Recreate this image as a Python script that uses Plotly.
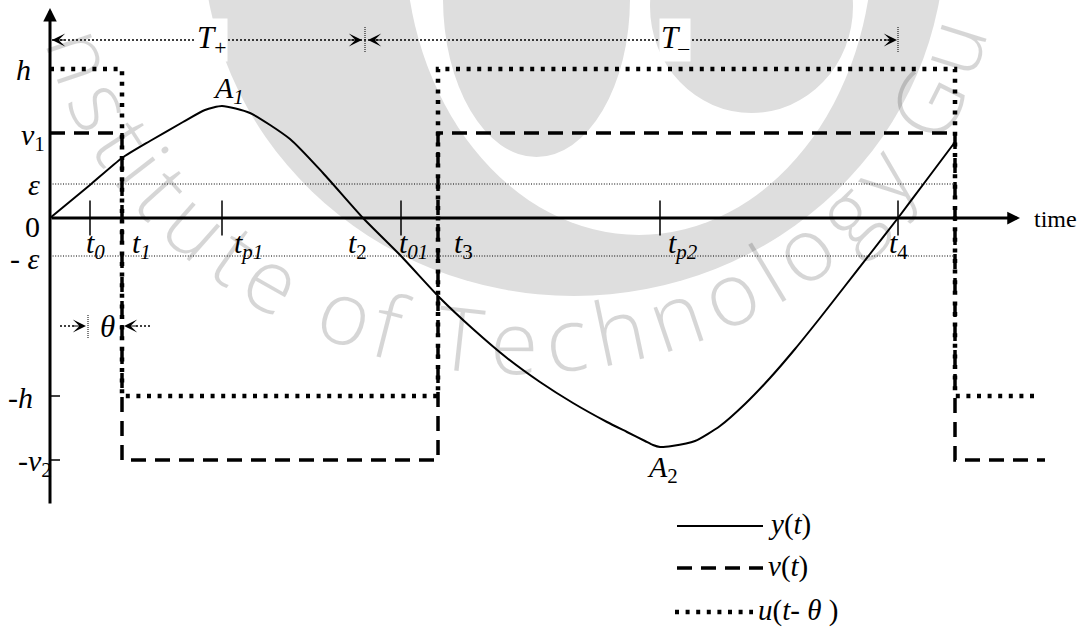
import math
import plotly.graph_objects as go

# ---- relay feedback timing (arbitrary time units, origin at 0) ----
t0, t1, tp1, t2, t01, t3, tp2, t4 = 40, 72, 172, 313, 351, 388, 610, 848
t5 = 905                 # next relay switching instant
u_end, v_end = 990, 995  # end of the drawn relay signals

# ---- signal levels (arbitrary units) ----
h, v1, eps = 149, 85, 34
neg_eps, neg_h, neg_v2 = -38, -178, -242
A1, A2 = 112, -229

# process output y(t)
y_time = [0, 40, 72, 100, 133, 155, 172, 200, 240, 273, 313, 351, 390,
          423, 457, 490, 523, 557, 577, 595, 603, 610, 622, 645, 670, 695,
          720, 745, 770, 795, 820, 848, 875, 905]
y_vals = [0, 33, 60, 77, 96, 108, 112, 105, 79, 45, 0, -38, -80,
          -111, -140, -164, -185, -204, -214, -223, -227, -229, -228, -223,
          -208, -186, -160, -131, -100, -68, -36, 0, 36, 76]

# relay switching instants and the levels held after each switch
switch_times = [0, t1, t3, t5]
u_levels = [h, neg_h, h, neg_h]
v_levels = [v1, neg_v2, v1, neg_v2]


def sub(s, italic=False, size=21):
    inner = f"<i>{s}</i>" if italic else s
    return f'<sub><span style="font-size:{size}px">{inner}</span></sub>'


# time-axis tick marks and labels
tick_times = [t0, tp1, t01, tp2, t4]
t_label_times = [t0, t1, tp1, t2, t01, t3, tp2, t4]
t_label_text = ["<i>t</i>" + sub("0", True), "<i>t</i>" + sub("1", True),
                "<i>t</i>" + sub("p1", True), "<i>t</i>" + sub("2"),
                "<i>t</i>" + sub("01", True), "<i>t</i>" + sub("3"),
                "<i>t</i>" + sub("p2", True), "<i>t</i>" + sub("4")]
t_label_dx = [5, 19, 26, -6, 12, 25, 23, 0]

# level labels on the vertical axis
lvl_vals = [h, v1, eps, 0, neg_eps, neg_h, neg_v2]
lvl_text = ["<i>h</i>", "<i>v</i>" + sub("1"), "<i>ε</i>", "0", "- <i>ε</i>",
            "-<i>h</i>", "-<i>v</i>" + sub("2")]
lvl_dx = [-17, -3, -8, -8, -8, -15, 4]
lvl_dy = [0, -4, 0, -8, -2, -1, -3]

W, H = 1081, 627
X0, Y0 = 50, 218          # pixel position of the origin
T_LEVEL, THETA_LEVEL = 178, -108
AXIS_TOP, AXIS_BOTTOM, AXIS_RIGHT = 210, -287, 970

INK = "black"
SERIF = "Liberation Serif"
WM = "#dedede"


def px(x):
    return x - X0


def py(y):
    return Y0 - y


fig = go.Figure()

# ---- watermark emblem (drawn below the traces) ----
shapes = []
for (x0, x1, ya, yb, col) in [
    (203, 945, -420, 296, WM),
    (405, 873, -355, 235, "white"),
    (443, 630, -160, 157, WM),
    (650, 853, -100, 113, WM),
]:
    shapes.append(dict(type="circle", xref="x", yref="y", x0=px(x0), x1=px(x1),
                       y0=py(yb), y1=py(ya), fillcolor=col, line_width=0,
                       layer="below"))

# ---- guide lines ----
for lev in (eps, neg_eps):
    shapes.append(dict(type="line", xref="x", yref="y", x0=0, x1=t5, y0=lev, y1=lev,
                       line=dict(color=INK, width=1, dash="1px,1.6px")))
# period arrows T+ and T-
shapes.append(dict(type="line", xref="x", yref="y", x0=2, x1=t4 - 2,
                   y0=T_LEVEL, y1=T_LEVEL,
                   line=dict(color=INK, width=1.4, dash="2px,2px")))
for tx in (t2 + 2, t4):
    shapes.append(dict(type="line", xref="x", yref="y", x0=tx, x1=tx,
                       y0=T_LEVEL - 12, y1=T_LEVEL + 13,
                       line=dict(color=INK, width=1, dash="1px,1px")))
# delay marker theta
shapes.append(dict(type="line", xref="x", yref="y", x0=10, x1=24,
                   y0=THETA_LEVEL, y1=THETA_LEVEL,
                   line=dict(color=INK, width=1.4, dash="2px,2px")))
shapes.append(dict(type="line", xref="x", yref="y", x0=t1 + 14, x1=t1 + 28,
                   y0=THETA_LEVEL, y1=THETA_LEVEL,
                   line=dict(color=INK, width=1.4, dash="2px,2px")))
shapes.append(dict(type="line", xref="x", yref="y", x0=t0 - 2, x1=t0 - 2,
                   y0=THETA_LEVEL - 12, y1=THETA_LEVEL + 11,
                   line=dict(color=INK, width=1, dash="1px,1px")))
# vertical-axis ticks at -h and -v2
for lev in (neg_h, neg_v2):
    shapes.append(dict(type="line", xref="x", yref="y", x0=0, x1=10, y0=lev, y1=lev,
                       line=dict(color=INK, width=1.5)))

# ---- signals ----
fig.add_trace(go.Scatter(
    x=switch_times + [u_end], y=u_levels + [u_levels[-1]], mode="lines",
    line=dict(color=INK, width=4.5, dash="4px,6.6px", shape="hv"),
    name="u(t-θ)", showlegend=False, hoverinfo="skip"))
fig.add_trace(go.Scatter(
    x=switch_times + [v_end], y=v_levels + [v_levels[-1]], mode="lines",
    line=dict(color=INK, width=3.5, dash="15px,9px", shape="hv"),
    name="v(t)", showlegend=False, hoverinfo="skip"))
fig.add_trace(go.Scatter(
    x=y_time, y=y_vals, mode="lines",
    line=dict(color=INK, width=2, shape="spline", smoothing=0.6),
    name="y(t)", showlegend=False, hoverinfo="skip"))
fig.add_trace(go.Scatter(
    x=tick_times, y=[0] * len(tick_times), mode="markers",
    marker=dict(symbol="line-ns", size=25, line=dict(color=INK, width=1.5)),
    showlegend=False, hoverinfo="skip"))

ann = []


def arrow(xh, yh, xt, yt, width, size, head=2):
    return dict(x=xh, y=yh, ax=xt, ay=yt, xref="x", yref="y", axref="x", ayref="y",
                text="", showarrow=True, arrowhead=head, arrowwidth=width,
                arrowsize=size, arrowcolor=INK)


# axes with arrow heads
ann.append(arrow(AXIS_RIGHT, 0, 0, 0, 3, 0.85))
ann.append(arrow(0, AXIS_TOP, 0, AXIS_BOTTOM, 3, 0.9))
# period and delay arrow heads
ann.append(arrow(2, T_LEVEL, 16, T_LEVEL, 1, 2.2, 3))
ann.append(arrow(t2 - 1, T_LEVEL, t2 - 15, T_LEVEL, 1, 2.2, 3))
ann.append(arrow(t2 + 5, T_LEVEL, t2 + 19, T_LEVEL, 1, 2.2, 3))
ann.append(arrow(t4 - 1, T_LEVEL, t4 - 15, T_LEVEL, 1, 2.2, 3))
ann.append(arrow(t0 - 4, THETA_LEVEL, t0 - 18, THETA_LEVEL, 1, 2.2, 3))
ann.append(arrow(t1 + 2, THETA_LEVEL, t1 + 16, THETA_LEVEL, 1, 2.2, 3))


def label(x, y, text, size=30, dx=0, dy=0, xanchor="center", yanchor="middle",
          bg=None):
    d = dict(x=x, y=y, xref="x", yref="y", text=text, showarrow=False,
             font=dict(family=SERIF, size=size, color=INK),
             xanchor=xanchor, yanchor=yanchor, xshift=dx, yshift=dy)
    if bg:
        d["bgcolor"] = bg
    return d


for tx, tt, dx in zip(t_label_times, t_label_text, t_label_dx):
    ann.append(label(tx, 0, tt, dx=dx, dy=-27))
for lv, lt, dx, dy in zip(lvl_vals, lvl_text, lvl_dx, lvl_dy):
    ann.append(label(0, lv, lt, size=30, dx=dx, dy=dy, xanchor="right"))

ann.append(label(tp1, A1, "<i>A</i>" + sub("1", True), size=30, dx=6, dy=16))
ann.append(label(tp2, A2, "<i>A</i>" + sub("2"), size=30, dx=2, dy=-22))
ann.append(label((0 + t2) / 2, T_LEVEL, "<i>T</i><sub>+</sub>", size=31, dx=5,
                 bg="white"))
ann.append(label(625, T_LEVEL, "<i>T</i><sub>–</sub>", size=31, bg="white"))
ann.append(label(t0 + 8, THETA_LEVEL, "<i>θ</i>", size=31, dx=9))
ann.append(label(AXIS_RIGHT, 0, "time", size=24, dx=12, dy=-1, xanchor="left"))

# legend
legend_rows = [("solid", "<i>y</i>(<i>t</i>)", 526, 2, 677, 763),
               ("15px,9px", "<i>v</i>(<i>t</i>)", 568, 3.5, 677, 763),
               ("4px,6.6px", "<i>u</i>(<i>t</i>- <i>θ</i> )", 612, 4.5, 675, 753)]
for dash, txt, ypx, lw, xa, xb in legend_rows:
    shapes.append(dict(type="line", xref="paper", yref="paper",
                       x0=xa / W, x1=xb / W, y0=1 - ypx / H, y1=1 - ypx / H,
                       line=dict(color=INK, width=lw, dash=dash)))
    ann.append(dict(x=(xb + 3) / W, y=1 - ypx / H, xref="paper", yref="paper",
                    text=txt, showarrow=False, xanchor="left", yanchor="middle",
                    yshift=2, font=dict(family=SERIF, size=29, color=INK)))

# ---- watermark lettering laid along an elliptical arc ----
wm_text = "Indian Institute of Technology Guwahati"
adv = {"T": 0.55, "e": 0.55, "c": 0.48, "h": 0.6, "n": 0.6, "o": 0.58,
       "l": 0.26, "g": 0.55, "y": 0.5, "s": 0.46, "t": 0.34, "i": 0.26,
       "u": 0.6, "f": 0.33, "G": 0.68, "w": 0.8, "a": 0.55, " ": 0.22,
       "I": 0.3, "d": 0.6}
fsz, track = 88, 6
ecx, ecy, erx, ery = 515, -60, 450, 400

# cumulative arc length along the ellipse, going clockwise on screen
phis = [math.radians(230 - 0.1 * k) for k in range(2600)]
pts = [(ecx + erx * math.cos(p), ecy + ery * math.sin(p)) for p in phis]
cum = [0.0]
for k in range(1, len(pts)):
    cum.append(cum[-1] + math.dist(pts[k], pts[k - 1]))


def at_arc(s):
    for k in range(1, len(cum)):
        if cum[k] >= s:
            f = (s - cum[k - 1]) / (cum[k] - cum[k - 1])
            return phis[k - 1] + f * (phis[k] - phis[k - 1])
    return phis[-1]


pos = 0.0
centres = []
for ch in wm_text:
    w = adv.get(ch, 0.55) * fsz + track
    centres.append(pos + w / 2)
    pos += w
t_idx = wm_text.index("Technology")
phi_T = math.radians(97)
k_T = min(range(len(phis)), key=lambda k: abs(phis[k] - phi_T))
shift = cum[k_T] - centres[t_idx]
for ch, c in zip(wm_text, centres):
    if ch == " ":
        continue
    p = at_arc(c + shift)
    xp = ecx + erx * math.cos(p)
    yp = ecy + ery * math.sin(p)
    if not (25 < xp < W - 25 and 20 < yp < H - 25):
        continue
    tx_, ty_ = erx * math.sin(p), -ery * math.cos(p)
    ang = math.degrees(math.atan2(ty_, tx_))
    ann.append(dict(x=px(xp), y=py(yp), xref="x", yref="y", text=ch,
                    showarrow=False, textangle=ang,
                    font=dict(family="Open Sans", size=fsz,
                              color="rgba(0,0,0,0.16)", weight=300),
                    xanchor="center", yanchor="middle"))

fig.update_layout(
    width=W, height=H, margin=dict(l=0, r=0, t=0, b=0, pad=0),
    paper_bgcolor="white", plot_bgcolor="white",
    font=dict(family=SERIF),
    xaxis=dict(range=[-X0, W - X0], visible=False, fixedrange=True),
    yaxis=dict(range=[Y0 - H, Y0], visible=False, fixedrange=True),
    shapes=shapes, annotations=ann, showlegend=False,
)

fig.write_html("out.html")
